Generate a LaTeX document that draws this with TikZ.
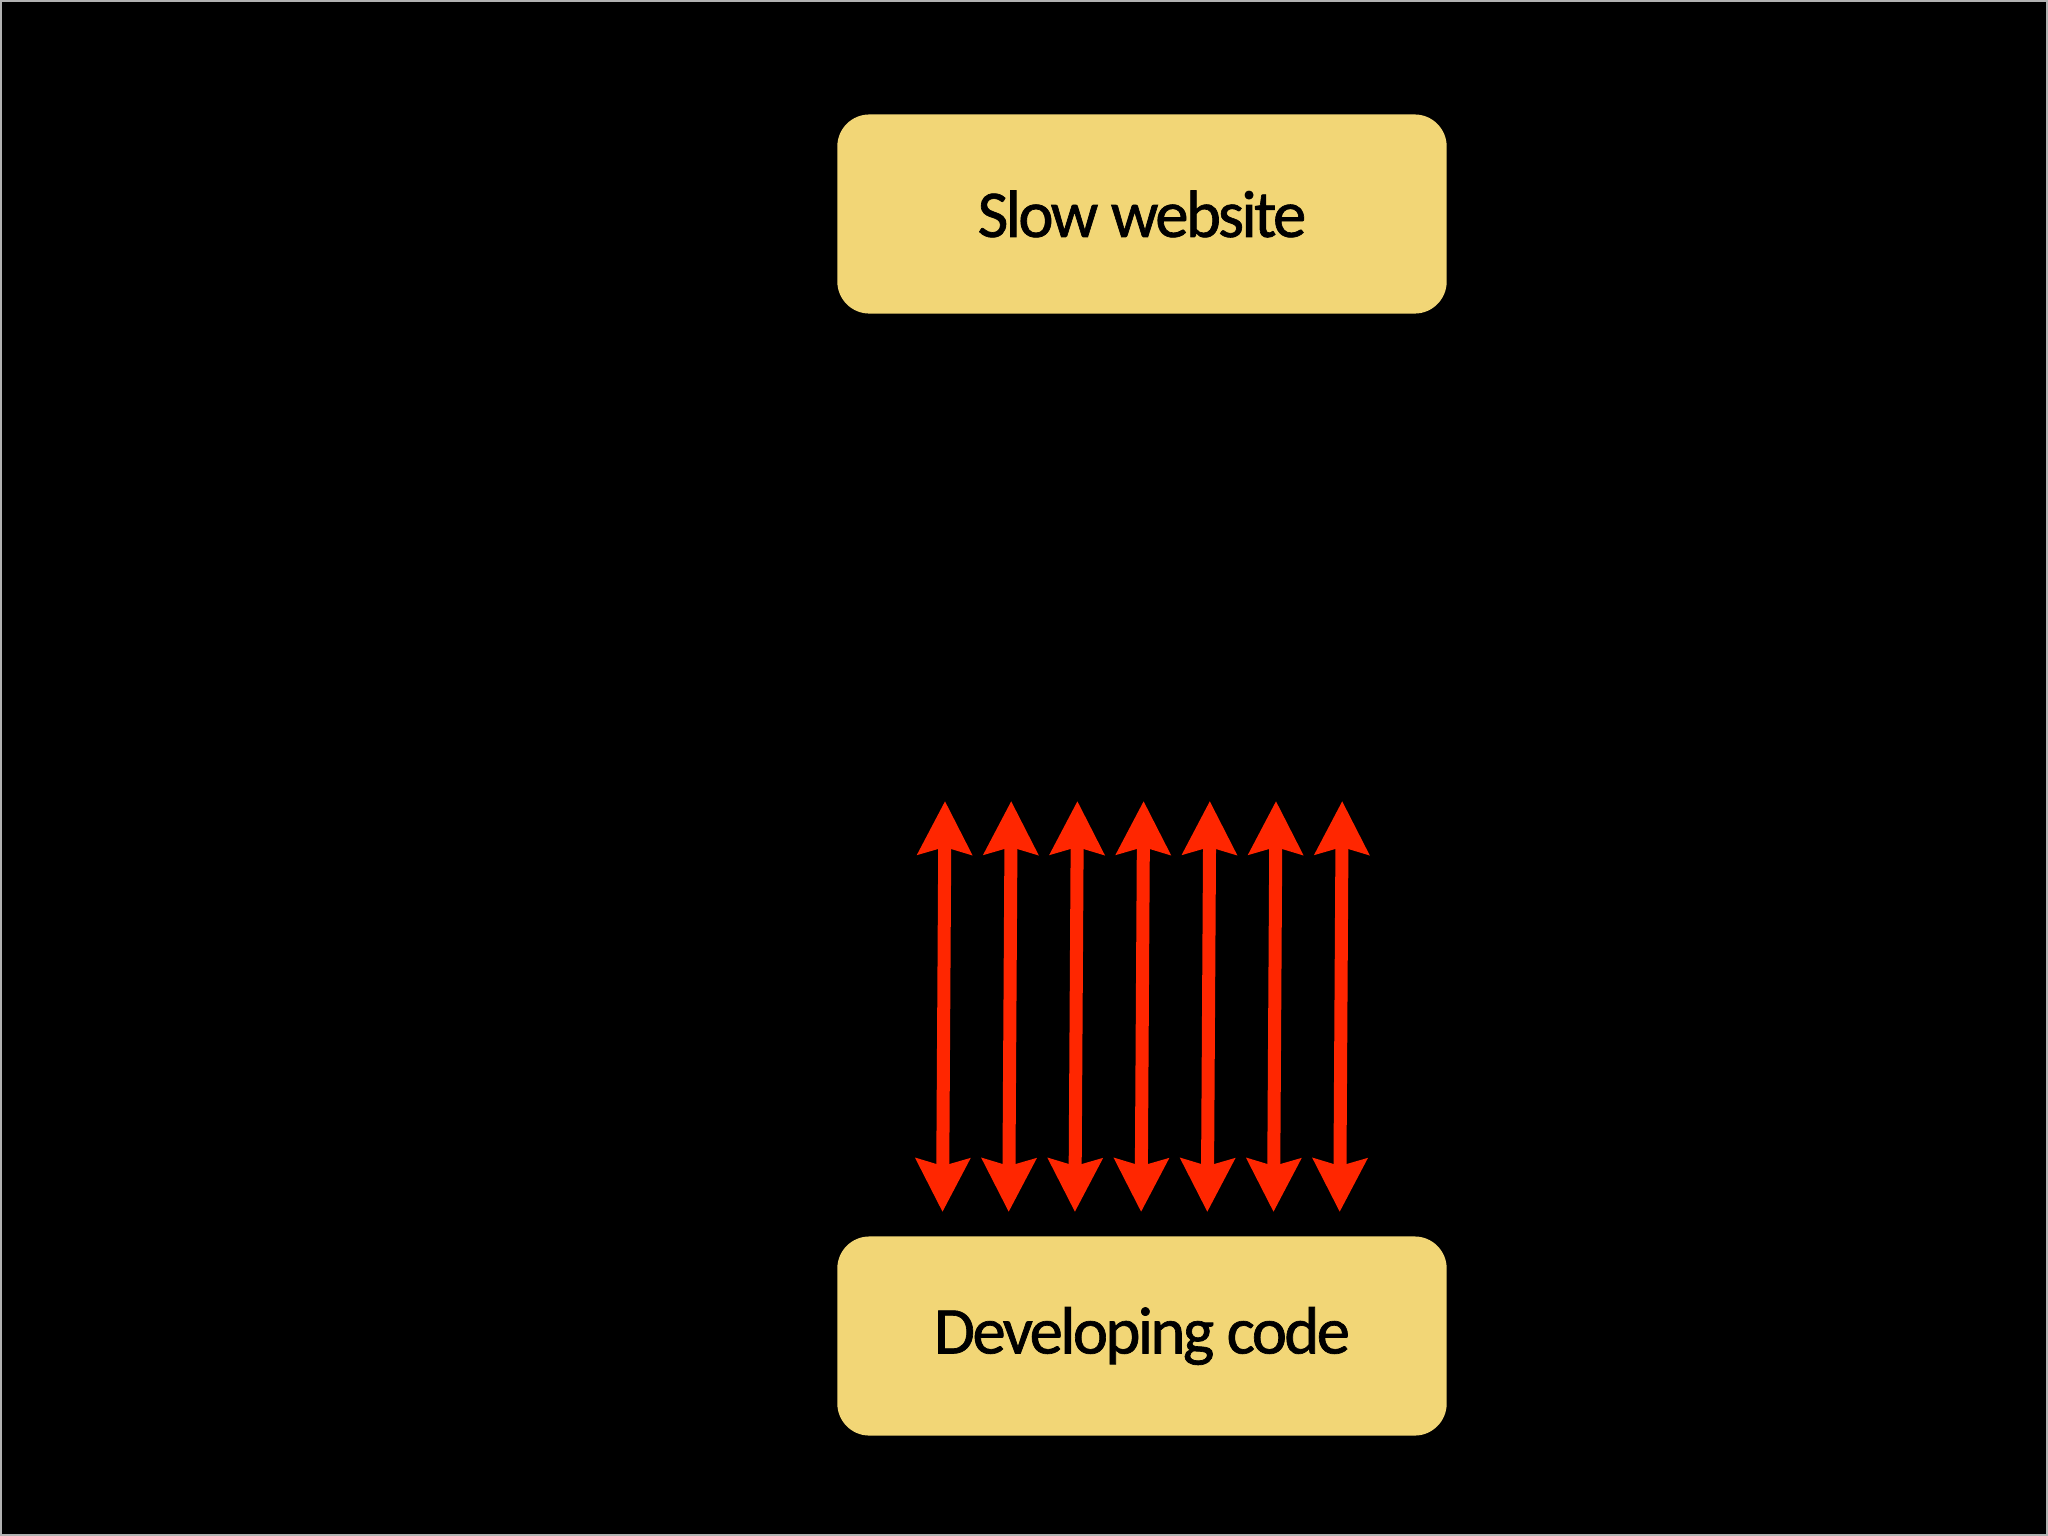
\documentclass[tikz,border=0pt]{standalone}
\usepackage{fontspec}
\setmainfont[FakeBold=1,LetterSpace=-4]{Carlito}
\usetikzlibrary{arrows.meta}
\definecolor{notepad}{RGB}{242,214,118}
\definecolor{hotred}{RGB}{255,38,0}

\begin{document}
\begin{tikzpicture}[x=0.01cm,y=-0.01cm,
    box/.style={fill=notepad,rounded corners=0.32cm,minimum width=6.09cm,
      minimum height=1.99cm,font=\fontsize{19}{23}\selectfont},
    trip/.style={hotred,line width=0.13cm,
      {Stealth[width=0.53cm,length=0.53cm,inset=0.07cm]}-{Stealth[width=0.53cm,length=0.53cm,inset=0.07cm]}}]
    \useasboundingbox (0,0) rectangle (2048,1536);
    \fill[black] (0,0) rectangle (2048,1536);
    \draw[gray!60,line width=0.02cm] (1,1) rectangle (2047,1535);

    \node[box] (slow) at (1142,214) {Slow website};
    \node[box] (dev) at (1142,1336) {Developing code};

    % back and forth between the two
    \foreach \i in {0,...,6} {
      \coordinate (up\i) at (945+66.2*\i,801);
      \coordinate (down\i) at (942.5+66.2*\i,1212);
      \draw[trip] (down\i) -- (up\i);
    }
\end{tikzpicture}
\end{document}
